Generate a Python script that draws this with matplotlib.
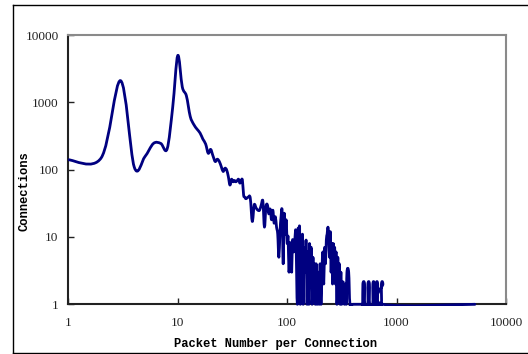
import numpy as np
import matplotlib
matplotlib.use("Agg")
import matplotlib.pyplot as plt
from matplotlib.path import Path
from matplotlib.patches import PathPatch, Rectangle
from matplotlib.lines import Line2D
from matplotlib.ticker import FixedLocator, FixedFormatter, NullLocator

# ---- data ----
packets = [1, 2, 3, 4, 5, 6, 7, 8, 9, 10, 11, 12, 13, 14, 15, 16, 17, 18, 19, 20,
           21, 22, 23, 24, 25, 26, 27, 28, 29, 30, 31, 32, 33, 34, 35, 36, 37, 38, 39, 40,
           41, 42, 44, 46, 48, 50, 52, 54, 56, 58, 60, 62, 64, 66, 68, 70, 72, 74, 76, 78,
           80, 82, 84, 86, 88, 90, 92, 94, 96, 98, 100, 102, 104, 106, 108, 110, 112, 115,
           118, 120, 122, 124, 126, 128, 130, 132, 134, 136, 138, 140, 143, 146, 149, 152,
           155, 158, 160, 163, 166, 169, 172, 175, 178, 181, 184, 188, 192, 196, 200, 204,
           208, 212, 216, 220, 224, 228, 232, 236, 240, 244, 248, 252, 256, 260, 264, 268,
           272, 276, 280, 285, 290, 295, 300, 305, 310, 315, 320, 327, 334, 340, 347, 352,
           365, 375, 400, 480, 490, 492, 510, 512, 545, 547, 565, 567, 605, 607, 625, 627,
           650, 652, 672, 674, 725, 727, 750, 752, 5200]
connections = [140, 150, 2100, 110, 155, 245, 245, 203, 850, 4950, 1700, 1250, 620, 470, 400, 350, 283, 240, 175, 200,
               160, 132, 143, 132, 111, 94, 105, 99, 79, 59, 72, 66, 69, 66, 69, 72, 63, 69, 70, 42,
               39, 37, 39, 38, 17, 30, 27, 25, 25, 30, 34, 14, 28, 30, 22, 26, 18, 25, 16, 20,
               14, 11, 5, 12, 20, 24, 4, 22, 11, 18, 8, 10, 3, 8, 6, 3, 9, 6,
               10, 12, 3, 1, 13, 6, 14, 1, 10, 4, 11, 1, 7, 3, 9, 1,
               6, 1, 8, 3, 7, 1, 5, 2, 4, 1, 4, 1, 3, 1, 4, 1,
               3, 6, 2, 7, 4, 9, 11, 14, 10, 5, 12, 3, 8, 2, 8, 4,
               7, 2, 6, 1, 5, 2, 4, 1, 3, 1, 2, 2, 1, 2, 1, 3,
               3, 1, 1, 1, 1, 2, 2, 1, 1, 2, 2, 1, 1, 2, 2, 1,
               1, 2, 2, 1, 1, 2, 2, 1, 1]

x_ticks = [1, 10, 100, 1000, 10000]
x_tick_labels = ["1", "10", "100", "1000", "10000"]
y_ticks = [1, 10, 100, 1000, 10000]
y_tick_labels = ["1", "10", "100", "1000", "10000"]
x_title = "Packet Number per Connection"
y_title = "Connections"


def smooth_path(xs, ys):
    """Excel-like smoothed line: cubic Bezier segments (Catmull-Rom control
    points) built in log-log space, drawn by matplotlib as a CURVE4 path."""
    lx = np.log10(np.asarray(xs, float))
    ly = np.log10(np.asarray(ys, float))
    n = len(lx)
    verts = [(xs[0], ys[0])]
    codes = [Path.MOVETO]
    for i in range(n - 1):
        a = max(i - 1, 0)
        b = min(i + 2, n - 1)
        c1x = lx[i] + (lx[i + 1] - lx[a]) / 6.0
        c1y = ly[i] + (ly[i + 1] - ly[a]) / 6.0
        c2x = lx[i + 1] - (lx[b] - lx[i]) / 6.0
        c2y = ly[i + 1] - (ly[b] - ly[i]) / 6.0
        verts += [(10 ** c1x, 10 ** c1y), (10 ** c2x, 10 ** c2y), (xs[i + 1], ys[i + 1])]
        codes += [Path.CURVE4] * 3
    return Path(verts, codes)


W, H = 528, 354
fig = plt.figure(figsize=(W / 100, H / 100), dpi=100)
ax = fig.add_axes([68.3 / W, 1 - 304.3 / H, (506 - 68.3) / W, (304.3 - 35) / H])
ax.set_xscale("log")
ax.set_yscale("log")
ax.set_xlim(1, 10000)
ax.set_ylim(1, 10000)

patch = PathPatch(smooth_path(packets, connections), fill=False, edgecolor="#000080",
                  lw=2.0, joinstyle="round", capstyle="round", zorder=3)
ax.add_patch(patch)
clip = Rectangle((0, -0.005), 1, 1.01, transform=ax.transAxes, facecolor="none",
                 edgecolor="none")
patch.set_clip_path(clip)

ax.xaxis.set_major_locator(FixedLocator(x_ticks))
ax.xaxis.set_major_formatter(FixedFormatter(x_tick_labels))
ax.yaxis.set_major_locator(FixedLocator(y_ticks))
ax.yaxis.set_major_formatter(FixedFormatter(y_tick_labels))
ax.xaxis.set_minor_locator(NullLocator())
ax.yaxis.set_minor_locator(NullLocator())

ax.tick_params(axis="both", which="major", direction="in", length=4, width=1,
               color="#222222", top=False, right=False, labelsize=9.5)
ax.tick_params(axis="x", pad=9)
ax.tick_params(axis="y", pad=7)
for lab in ax.get_xticklabels() + ax.get_yticklabels():
    lab.set_family("Liberation Serif")
    lab.set_color("#222222")

for s in ["left", "bottom"]:
    ax.spines[s].set_color("#222222")
    ax.spines[s].set_linewidth(1.5)
for s in ["top", "right"]:
    ax.spines[s].set_color("#8a8a8a")
    ax.spines[s].set_linewidth(1.5)

fig.text(276 / W, 1 - 343.5 / H, x_title, ha="center", va="center",
         family="Liberation Mono", fontweight="bold", fontsize=8.7, color="black")
fig.text(25 / W, 1 - 191 / H, y_title, ha="center", va="center", rotation=90,
         family="Liberation Mono", fontweight="bold", fontsize=8.7, color="black")

# outer frame (left, top, bottom edges)
fx0, fy_top, fy_bot = 12.7 / W, 1 - 5 / H, 1 - 352.5 / H
fig.add_artist(Line2D([fx0, fx0], [fy_bot, fy_top], color="black", lw=1.0))
fig.add_artist(Line2D([fx0, 1.0], [fy_top, fy_top], color="black", lw=1.0))
fig.add_artist(Line2D([fx0, 1.0], [fy_bot, fy_bot], color="black", lw=1.0))

fig.savefig("out.png", dpi=100)
